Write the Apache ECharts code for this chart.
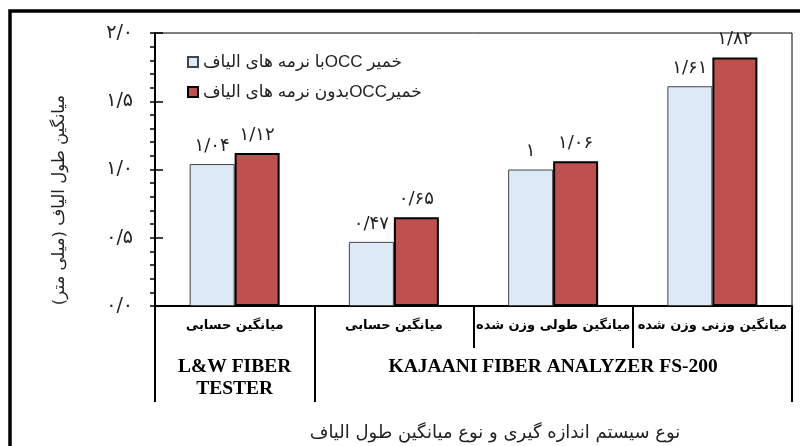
<!DOCTYPE html>
<html dir="rtl">
<head>
<meta charset="utf-8">
<script src="https://cdn.jsdelivr.net/npm/echarts@6/dist/echarts.min.js"></script>
<style>
  html, body { margin: 0; padding: 0; background: #fff; }
  #chart { width: 800px; height: 446px; }
</style>
</head>
<body>
<div id="chart"></div>
<script>
// data
const categories = ['میانگین حسابی', 'میانگین حسابی', 'میانگین طولی وزن شده', 'میانگین وزنی وزن شده']
const systems = ['L&W FIBER\nTESTER', '', 'KAJAANI FIBER ANALYZER FS-200', '']
const seriesNames = ['خمیر OCCبا نرمه های الیاف', 'خمیرOCCبدون نرمه های الیاف']
const withFines = [1.04, 0.47, 1.00, 1.61]
const withoutFines = [1.12, 0.65, 1.06, 1.82]
const yTicks = [0, 0.5, 1.0, 1.5, 2.0]

const yName = 'میانگین طول الیاف (میلی متر)'
const xName = 'نوع سیستم اندازه گیری و نوع میانگین طول الیاف'

const faDigits = '۰۱۲۳۴۵۶۷۸۹'
const toFa = s => s.replace(/\d/g, d => faDigits[d]).replace('.', '/')

const faFont = '"DejaVu Sans", sans-serif'
const latinFont = '"Liberation Sans", "DejaVu Sans", sans-serif'

const chart = echarts.init(document.getElementById('chart'))

const valueLabel = {
  show: true,
  position: 'top',
  distance: 9,
  fontFamily: faFont,
  fontSize: 18,
  color: '#222',
  formatter: p => toFa(String(p.value))
}

const option = {
  animation: false,
  backgroundColor: '#fff',
  grid: {
    left: 155, top: 33, right: 8, bottom: 140,
    show: true, borderColor: '#000', borderWidth: 1
  },
  legend: {
    data: seriesNames,
    orient: 'vertical',
    left: 182,
    top: 46,
    itemWidth: 10,
    itemHeight: 10,
    itemGap: 8,
    icon: 'rect',
    textStyle: { fontFamily: latinFont, fontSize: 17, lineHeight: 22, color: '#222' }
  },
  xAxis: [
    {
      type: 'category',
      data: categories,
      axisLine: { lineStyle: { color: '#000', width: 2 } },
      axisTick: { show: true, interval: 0, length: 42, lineStyle: { color: '#000', width: 2 } },
      axisLabel: {
        interval: 0, margin: 13, color: '#000',
        fontFamily: faFont, fontSize: 13, fontWeight: 'bold'
      }
    },
    {
      type: 'category',
      data: systems,
      position: 'bottom',
      axisLine: { show: false },
      axisTick: {
        show: true,
        interval: i => i === 0 || i === 1,
        length: 96,
        lineStyle: { color: '#000', width: 2 }
      },
      axisLabel: {
        interval: 0, margin: 50, color: '#000',
        fontFamily: '"Liberation Serif", serif', fontSize: 19.5, fontWeight: 'bold',
        lineHeight: 22
      }
    }
  ],
  yAxis: [
    {
      type: 'value',
      min: yTicks[0],
      max: yTicks[yTicks.length - 1],
      interval: 0.5,
      splitLine: { show: false },
      axisLine: { show: true, lineStyle: { color: '#000', width: 2 } },
      axisTick: { show: true, length: 5, lineStyle: { color: '#000', width: 1.5 } },
      minorTick: { show: true, splitNumber: 5, length: 5, lineStyle: { color: '#000', width: 1.5 } },
      axisLabel: {
        margin: 22, color: '#222', fontFamily: faFont, fontSize: 19,
        formatter: v => toFa(v.toFixed(1))
      }
    },
    {
      type: 'value',
      min: yTicks[0],
      max: yTicks[yTicks.length - 1],
      interval: 0.5,
      position: 'left',
      splitLine: { show: false },
      axisLine: { show: false },
      axisLabel: { show: false },
      axisTick: { show: true, inside: true, length: 8, lineStyle: { color: '#000', width: 1.5 } }
    }
  ],
  graphic: [
    {
      type: 'rect', silent: true,
      shape: { x: 10, y: 11, width: 1000, height: 1000 },
      style: { fill: 'none', stroke: '#000', lineWidth: 3.5 }
    },
    {
      type: 'text', silent: true,
      x: 60, y: 200, rotation: Math.PI / 2,
      style: {
        text: yName, fill: '#222', font: '16.5px ' + faFont,
        align: 'center', verticalAlign: 'middle'
      }
    },
    {
      type: 'text', silent: true,
      x: 495, y: 433,
      style: {
        text: xName, fill: '#222', font: '18px ' + faFont,
        align: 'center', verticalAlign: 'middle'
      }
    }
  ],
  series: [
    {
      name: seriesNames[0],
      type: 'bar',
      data: withFines,
      barWidth: 45,
      barGap: '0%',
      itemStyle: { color: '#dce9f7', borderColor: '#444', borderWidth: 1 },
      label: valueLabel
    },
    {
      name: seriesNames[1],
      type: 'bar',
      data: withoutFines,
      barWidth: 45,
      itemStyle: { color: '#c0504d', borderColor: '#000', borderWidth: 2 },
      label: valueLabel
    }
  ]
}

chart.setOption(option)
</script>
</body>
</html>
